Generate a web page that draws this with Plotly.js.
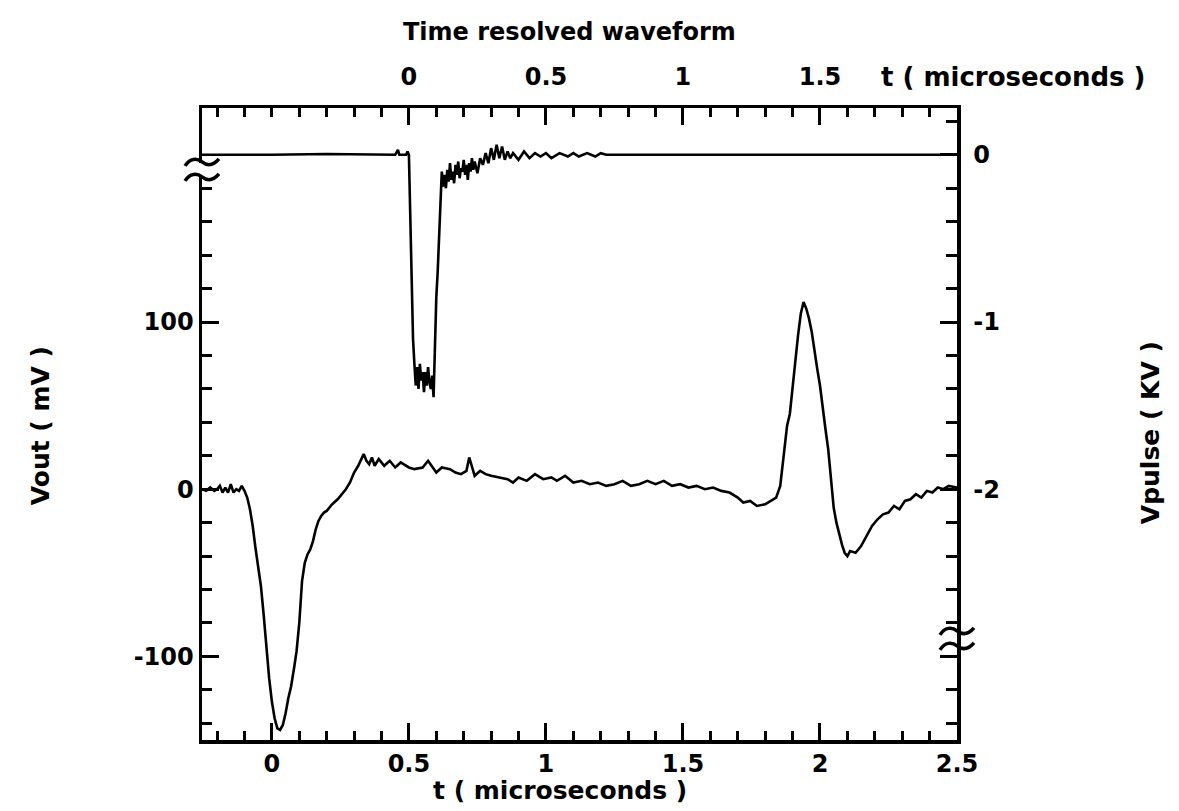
<!DOCTYPE html>
<html>
<head>
<meta charset="utf-8">
<script src="https://cdn.plot.ly/plotly-3.0.1.min.js"></script>
<style>html,body{margin:0;padding:0;background:#fff;}#chart{width:1179px;height:811px;}</style>
</head>
<body>
<div id="chart"></div>
<script>
// Vout (mV) vs t (microseconds), bottom / left axes
const tOut = [-0.255,-0.24,-0.225,-0.21,-0.2,-0.19,-0.18,-0.17,-0.16,-0.15,-0.14,-0.13,-0.12,-0.11,-0.1,-0.09,-0.08,-0.07,-0.06,-0.05,-0.04,-0.03,-0.02,-0.01,0.0,0.01,0.02,0.03,0.04,0.05,0.06,0.07,0.08,0.09,0.1,0.11,0.12,0.13,0.14,0.15,0.16,0.17,0.18,0.19,0.2,0.21,0.22,0.24,0.255,0.27,0.285,0.3,0.315,0.335,0.345,0.355,0.365,0.375,0.39,0.41,0.43,0.45,0.47,0.5,0.52,0.55,0.57,0.6,0.62,0.65,0.67,0.69,0.71,0.72,0.74,0.76,0.78,0.8,0.83,0.86,0.88,0.9,0.93,0.96,0.99,1.02,1.04,1.07,1.1,1.13,1.16,1.19,1.22,1.25,1.28,1.31,1.34,1.37,1.4,1.43,1.46,1.49,1.52,1.55,1.58,1.61,1.64,1.67,1.7,1.72,1.745,1.77,1.8,1.82,1.84,1.855,1.87,1.88,1.89,1.9,1.91,1.92,1.93,1.94,1.95,1.96,1.97,1.98,1.99,2.0,2.01,2.02,2.03,2.04,2.05,2.06,2.07,2.08,2.09,2.1,2.11,2.13,2.15,2.17,2.19,2.21,2.23,2.25,2.27,2.29,2.31,2.33,2.35,2.37,2.39,2.41,2.43,2.45,2.47,2.5];
const vOut = [0,-1,1,-1,0,2,-2,1,-2,3,-2,0,-1,2,-1,-5,-12,-22,-35,-47,-58,-75,-95,-113,-127,-137,-143,-144,-141,-134,-125,-118,-108,-97,-80,-55,-44,-39,-36,-31,-24,-19,-16,-14,-13,-11,-9,-6,-3,0,4,10,14,21,17,15,19,14,18,14,17,13,16,13,12,13,17,10,13,12,10,9,11,19,8,11,9,8,7,6,4,7,5,9,6,7,5,8,4,5,3,4,2,3,5,2,3,5,3,5,2,3,1,2,0,1,-1,-2,-5,-8,-7,-10,-9,-7,-5,2,25,38,45,62,75,92,105,112,108,102,94,82,72,62,48,36,24,5,-11,-20,-27,-33,-38,-40,-37,-38,-34,-28,-22,-18,-15,-14,-10,-12,-7,-6,-3,-5,-1,-2,1,0,2,1,0];

// Vpulse (KV) vs t (microseconds), top / right axes
const tPulse = [-0.755,-0.5,-0.3,-0.1,-0.05,-0.04,-0.035,-0.01,-0.005,0.0,0.005,0.01,0.015,0.02,0.025,0.03,0.035,0.04,0.045,0.05,0.055,0.06,0.065,0.07,0.075,0.08,0.085,0.09,0.095,0.1,0.105,0.11,0.115,0.12,0.125,0.13,0.135,0.14,0.145,0.15,0.155,0.16,0.165,0.17,0.175,0.18,0.185,0.19,0.195,0.2,0.205,0.21,0.215,0.22,0.225,0.23,0.235,0.24,0.25,0.26,0.27,0.28,0.29,0.3,0.31,0.32,0.33,0.34,0.35,0.36,0.37,0.38,0.4,0.42,0.44,0.46,0.48,0.5,0.52,0.55,0.58,0.6,0.62,0.65,0.68,0.7,0.72,1.0,1.5,2.0];
const vPulse = [0,0,0.005,0,0,0.03,0,0,0.02,0,-0.4,-0.8,-1.1,-1.25,-1.38,-1.27,-1.4,-1.25,-1.35,-1.3,-1.42,-1.3,-1.38,-1.27,-1.36,-1.4,-1.32,-1.45,-1.1,-0.85,-0.7,-0.5,-0.3,-0.1,-0.19,-0.12,-0.2,-0.09,-0.16,-0.05,-0.15,-0.1,-0.17,-0.06,-0.12,-0.04,-0.14,-0.08,-0.1,-0.03,-0.12,-0.06,-0.15,-0.05,-0.1,-0.02,-0.09,-0.04,-0.11,-0.02,-0.06,0.01,-0.05,0.04,-0.03,0.06,-0.02,0.05,-0.03,0.02,-0.02,0.01,-0.03,0.02,-0.02,0.01,-0.01,0.01,-0.02,0.01,-0.01,0.01,-0.01,0.01,-0.01,0.01,0,0,0,0];

const bottomTicks = [0,0.5,1,1.5,2,2.5];
const bottomLabels = ['0','0.5','1','1.5','2','2.5'];
const topTicks = [0,0.5,1,1.5];
const topLabels = ['0','0.5','1','1.5'];
const leftTicks = [-100,0,100];
const leftLabels = ['-100','0','100'];
const rightTicks = [-3,-2,-1,0];
const rightLabels = ['','-2','-1','0'];

function range(a,b,s){const r=[];for(let i=Math.round(a/s);i<=Math.round(b/s);i++){r.push(+(i*s).toFixed(3));}return r;}
const bottomMinor = range(-0.2,2.4,0.1).filter(v=>Math.abs(v*2-Math.round(v*2))>1e-6);
const topMinor = range(-0.7,1.9,0.1).filter(v=>!(v>=-0.01 && Math.abs(v*2-Math.round(v*2))<1e-6));
const leftMinor = range(-140,180,20).filter(v=>v%100!==0);
const rightMinor = range(-3.4,0.2,0.2).filter(v=>Math.abs(v-Math.round(v))>1e-6);

const F = 'DejaVu Sans, Liberation Sans, Arial, sans-serif';
const tickFont = {family:F, size:24, color:'#000', weight:700};
const titleFont = {family:F, size:25, color:'#000', weight:700};

const common = {showline:true, linewidth:3.5, linecolor:'#000', showgrid:false, zeroline:false,
  ticks:'inside', ticklen:17, tickwidth:3, tickcolor:'#000', tickmode:'array', tickfont:tickFont, fixedrange:true};

const traces = [
  {x:tOut, y:vOut, xaxis:'x', yaxis:'y', type:'scatter', mode:'lines', line:{color:'#000', width:2.6}, hoverinfo:'skip'},
  {x:tPulse, y:vPulse, xaxis:'x2', yaxis:'y2', type:'scatter', mode:'lines', line:{color:'#000', width:2.6}, hoverinfo:'skip'}
];

function brk(xa, ya, gap){
  const base = {type:'path', xref:'paper', yref:'paper', xsizemode:'pixel', ysizemode:'pixel', xanchor:xa, yanchor:ya, layer:'above'};
  const s = [];
  if (gap) s.push(Object.assign({}, base, {path:'M -5 7 L 5 7 L 5 -6 L -5 -6 Z', fillcolor:'#fff', line:{width:0}}));
  s.push(Object.assign({}, base, {path:'M -17 4 C -12 12, -5 12, 0 8 C 5 4, 11 4, 17 11', line:{color:'#000', width:3.5}}));
  s.push(Object.assign({}, base, {path:'M -17 -11 C -12 -3, -5 -3, 0 -7 C 5 -11, 11 -11, 17 -4', line:{color:'#000', width:3.5}}));
  return s;
}

const layout = {
  width:1179, height:811,
  margin:{l:202, r:222, t:108, b:71, pad:0},
  paper_bgcolor:'#fff', plot_bgcolor:'#fff',
  showlegend:false,
  font:{family:F, size:24, color:'#000'},
  xaxis:Object.assign({}, common, {range:[-0.255,2.5], tickvals:bottomTicks, ticktext:bottomLabels, side:'bottom', anchor:'y', ticklabelstandoff:0,
    minor:{tickmode:'array', tickvals:bottomMinor, ticks:'inside', ticklen:9, tickwidth:3, tickcolor:'#000', showgrid:false}}),
  xaxis2:Object.assign({}, common, {range:[-0.755,2.0], tickvals:topTicks, ticktext:topLabels, side:'top', overlaying:'x', anchor:'y', ticklabelstandoff:10,
    minor:{tickmode:'array', tickvals:topMinor, ticks:'inside', ticklen:9, tickwidth:3, tickcolor:'#000', showgrid:false}}),
  yaxis:Object.assign({}, common, {range:[-150,228], tickvals:leftTicks, ticktext:leftLabels, side:'left', anchor:'x', ticklabelstandoff:0,
    minor:{tickmode:'array', tickvals:leftMinor, ticks:'inside', ticklen:10, tickwidth:3, tickcolor:'#000', showgrid:false}}),
  yaxis2:Object.assign({}, common, {range:[-3.5,0.28], tickvals:rightTicks, ticktext:rightLabels, side:'right', overlaying:'y', anchor:'x', ticklabelstandoff:8,
    minor:{tickmode:'array', tickvals:rightMinor, ticks:'inside', ticklen:11, tickwidth:3, tickcolor:'#000', showgrid:false}}),
  annotations:[
    {text:'Time resolved waveform', xref:'paper', yref:'paper', x:0.487, y:1.12, showarrow:false, xanchor:'center', yanchor:'middle', font:Object.assign({}, titleFont, {size:24})},
    {text:'t ( microseconds )', xref:'paper', yref:'paper', x:1.074, y:1.049, showarrow:false, xanchor:'center', yanchor:'middle', font:Object.assign({}, titleFont, {size:26})},
    {text:'t ( microseconds )', xref:'paper', yref:'paper', x:0.474, y:-0.08, showarrow:false, xanchor:'center', yanchor:'middle', font:titleFont},
    {text:'Vout ( mV )', xref:'paper', yref:'paper', x:-0.2146, y:0.498, showarrow:false, textangle:-90, xanchor:'center', yanchor:'middle', font:titleFont},
    {text:'Vpulse ( KV )', xref:'paper', yref:'paper', x:1.2556, y:0.487, showarrow:false, textangle:-90, xanchor:'center', yanchor:'middle', font:titleFont}
  ],
  shapes:[].concat(brk(0, 0.902, true), brk(1, 0.160, false))
};

Plotly.newPlot('chart', traces, layout, {displayModeBar:false, staticPlot:true});
</script>
</body>
</html>
